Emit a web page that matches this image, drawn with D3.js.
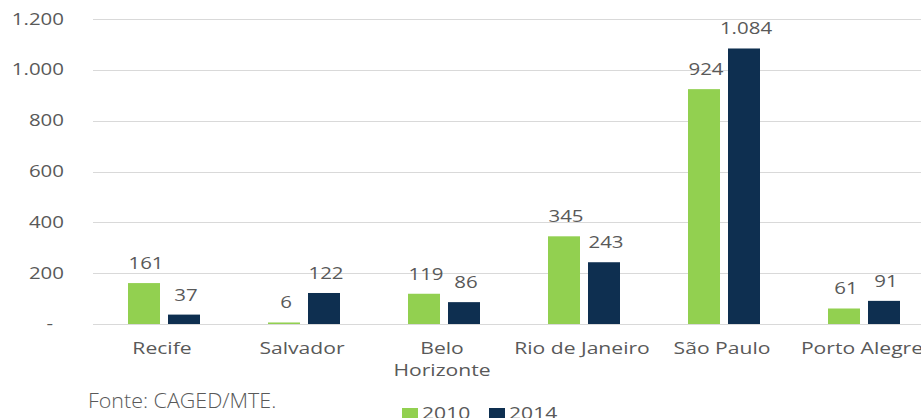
<!DOCTYPE html>
<html>
<head>
<meta charset="utf-8">
<script src="https://cdn.jsdelivr.net/npm/d3@7"></script>
<style>
  body { margin: 0; background: #fff; }
  svg { display: block; }
  text { font-family: "Open Sans", sans-serif; fill: #595959; }
</style>
</head>
<body>
<div id="chart"></div>
<script>
// data
const cities = ["Recife", "Salvador", "Belo Horizonte", "Rio de Janeiro", "São Paulo", "Porto Alegre"];
const cityLines = [["Recife"], ["Salvador"], ["Belo", "Horizonte"], ["Rio de Janeiro"], ["São Paulo"], ["Porto Alegre"]];
const years = ["2010", "2014"];
const values2010 = [161, 6, 119, 345, 924, 61];
const values2014 = [37, 122, 86, 243, 1084, 91];
const yTicks = [0, 200, 400, 600, 800, 1000, 1200];
const colors = ["#92d050", "#0e2f50"];

const width = 921, height = 418;
const sx = 1.32; // the source picture is stretched sideways

const ptBR = d3.formatLocale({decimal: ",", thousands: ".", grouping: [3], currency: ["R$", ""]});
const fmt = ptBR.format(",d");

const svg = d3.select("#chart").append("svg")
    .attr("width", width)
    .attr("height", height);

const y = d3.scaleLinear().domain([0, 1200]).range([324, 19]);

const x0 = d3.scaleBand()
    .domain(cities)
    .range([94, 934])
    .paddingInner(68 / 140)
    .paddingOuter(34 / 140);

const x1 = d3.scaleBand()
    .domain(years)
    .range([0, x0.bandwidth()])
    .paddingInner(0.2);

const color = d3.scaleOrdinal().domain(years).range(colors);

function stretchedText(g, x, yPos, str, anchor, k) {
    return g.append("text")
        .attr("transform", "translate(" + x + "," + yPos + ") scale(" + (k || sx) + ",1)")
        .attr("text-anchor", anchor)
        .text(str);
}

// gridlines
svg.append("g")
    .selectAll("line")
    .data(yTicks)
    .join("line")
    .attr("x1", 93)
    .attr("x2", width)
    .attr("y1", d => Math.round(y(d)) + 0.5)
    .attr("y2", d => Math.round(y(d)) + 0.5)
    .attr("stroke", "#d9d9d9")
    .attr("stroke-width", 1);

// y labels
const yAxisG = svg.append("g").style("font-size", "15.5px");
yTicks.forEach(function (t) {
    if (t === 0) {
        stretchedText(yAxisG, 53, y(t) + 5, "-", "end");
    } else {
        stretchedText(yAxisG, 64, y(t) + 5.5, fmt(t), "end");
    }
});

// bars
const rows = cities.map((c, i) => ({city: c, vals: [
    {key: "2010", value: values2010[i]},
    {key: "2014", value: values2014[i]}
]}));

const groups = svg.append("g")
    .selectAll("g")
    .data(rows)
    .join("g")
    .attr("transform", d => "translate(" + x0(d.city) + ",0)");

groups.selectAll("rect")
    .data(d => d.vals)
    .join("rect")
    .attr("x", d => x1(d.key))
    .attr("y", d => y(d.value))
    .attr("width", x1.bandwidth())
    .attr("height", d => y(0) - y(d.value))
    .attr("fill", d => color(d.key));

// value labels
groups.each(function (d) {
    const g = d3.select(this).style("font-size", "15.5px");
    d.vals.forEach(function (v) {
        stretchedText(g, x1(v.key) + x1.bandwidth() / 2 + 2, y(v.value) - 14, fmt(v.value), "middle");
    });
});

// category labels
const catG = svg.append("g").style("font-size", "16px");
cities.forEach(function (c, i) {
    const cx = x0(c) + x0.bandwidth() / 2 - 2;
    cityLines[i].forEach(function (line, j) {
        stretchedText(catG, cx, 354 + j * 22, line, "middle");
    });
});

// source note
const noteG = svg.append("g")
    .style("font-size", "19.5px")
    .style("font-weight", 300);
stretchedText(noteG, 88, 408, "Fonte: CAGED/MTE.", "start", 1.1);

// legend
const legendX = [402, 489];
const legend = svg.append("g").style("font-size", "16px");
years.forEach(function (yr, i) {
    legend.append("rect")
        .attr("x", legendX[i])
        .attr("y", 408)
        .attr("width", 16)
        .attr("height", 12)
        .attr("fill", color(yr));
    stretchedText(legend, legendX[i] + 20, 419, yr, "start");
});
</script>
</body>
</html>
